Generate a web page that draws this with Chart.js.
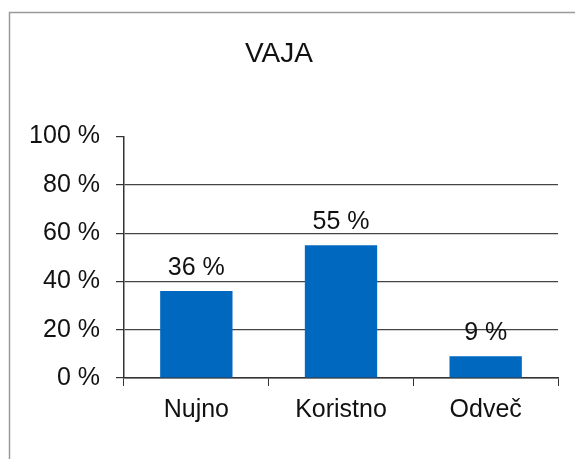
<!DOCTYPE html>
<html>
<head>
<meta charset="utf-8">
<script src="https://cdn.jsdelivr.net/npm/chart.js@4"></script>
<style>
  html, body { margin: 0; padding: 0; background: #fff; }
  #wrap { width: 575px; height: 459px; }
</style>
</head>
<body>
<div id="wrap"><canvas id="chart"></canvas></div>
<script>
const categories = ['Nujno', 'Koristno', 'Odveč'];
const values = [36, 55, 9];
const yTicks = [0, 20, 40, 60, 80, 100];

const FONT = "'Liberation Sans', Arial, sans-serif";

// frame round the chart, like the pasted office chart
const framePlugin = {
  id: 'frame',
  beforeDraw(chart) {
    const ctx = chart.ctx;
    ctx.save();
    ctx.strokeStyle = '#9a9a9a';
    ctx.lineWidth = 1.5;
    ctx.beginPath();
    ctx.moveTo(9.5, 459);
    ctx.lineTo(9.5, 12.5);
    ctx.lineTo(575, 12.5);
    ctx.stroke();
    ctx.restore();
  }
};

// "36 %" labels above the bars
const valueLabels = {
  id: 'valueLabels',
  afterDatasetsDraw(chart) {
    const ctx = chart.ctx;
    const meta = chart.getDatasetMeta(0);
    ctx.save();
    ctx.font = '25px ' + FONT;
    ctx.fillStyle = '#111';
    ctx.textAlign = 'center';
    ctx.textBaseline = 'alphabetic';
    meta.data.forEach((bar, i) => {
      ctx.fillText(values[i] + ' %', bar.x, bar.y - 16);
    });
    ctx.restore();
  }
};

new Chart(document.getElementById('chart'), {
  type: 'bar',
  data: {
    labels: categories,
    datasets: [{
      data: values,
      backgroundColor: '#0068bf',
      categoryPercentage: 1,
      barPercentage: 0.5
    }]
  },
  options: {
    responsive: true,
    maintainAspectRatio: false,
    animation: false,
    layout: { padding: { top: 37, right: 17, left: 0, bottom: 0 } },
    plugins: {
      legend: { display: false },
      tooltip: { enabled: false },
      title: {
        display: true,
        text: 'VAJA',
        color: '#111',
        font: { family: FONT, size: 28, weight: 'normal' },
        padding: { top: 0, bottom: 66 }
      }
    },
    scales: {
      x: {
        grid: {
          offset: true,
          drawOnChartArea: false,
          drawTicks: true,
          tickLength: 8,
          tickColor: '#333'
        },
        border: { color: '#333', width: 1.5 },
        ticks: {
          color: '#111',
          padding: 9,
          font: { family: FONT, size: 25 }
        },
        afterFit(scale) { scale.height = 81; }
      },
      y: {
        min: 0,
        max: 100,
        afterBuildTicks(scale) {
          scale.ticks = yTicks.map(v => ({ value: v }));
        },
        grid: {
          color: ctx => (ctx.tick && ctx.tick.value === 100) ? 'rgba(0,0,0,0)' : '#444',
          lineWidth: 1.2,
          tickLength: 8,
          tickColor: '#333'
        },
        border: { color: '#333', width: 1.5 },
        ticks: {
          color: '#111',
          padding: 16,
          font: { family: FONT, size: 25 },
          callback: v => v + ' %'
        },
        afterFit(scale) { scale.width = 124; }
      }
    }
  },
  plugins: [framePlugin, valueLabels]
});
</script>
</body>
</html>
